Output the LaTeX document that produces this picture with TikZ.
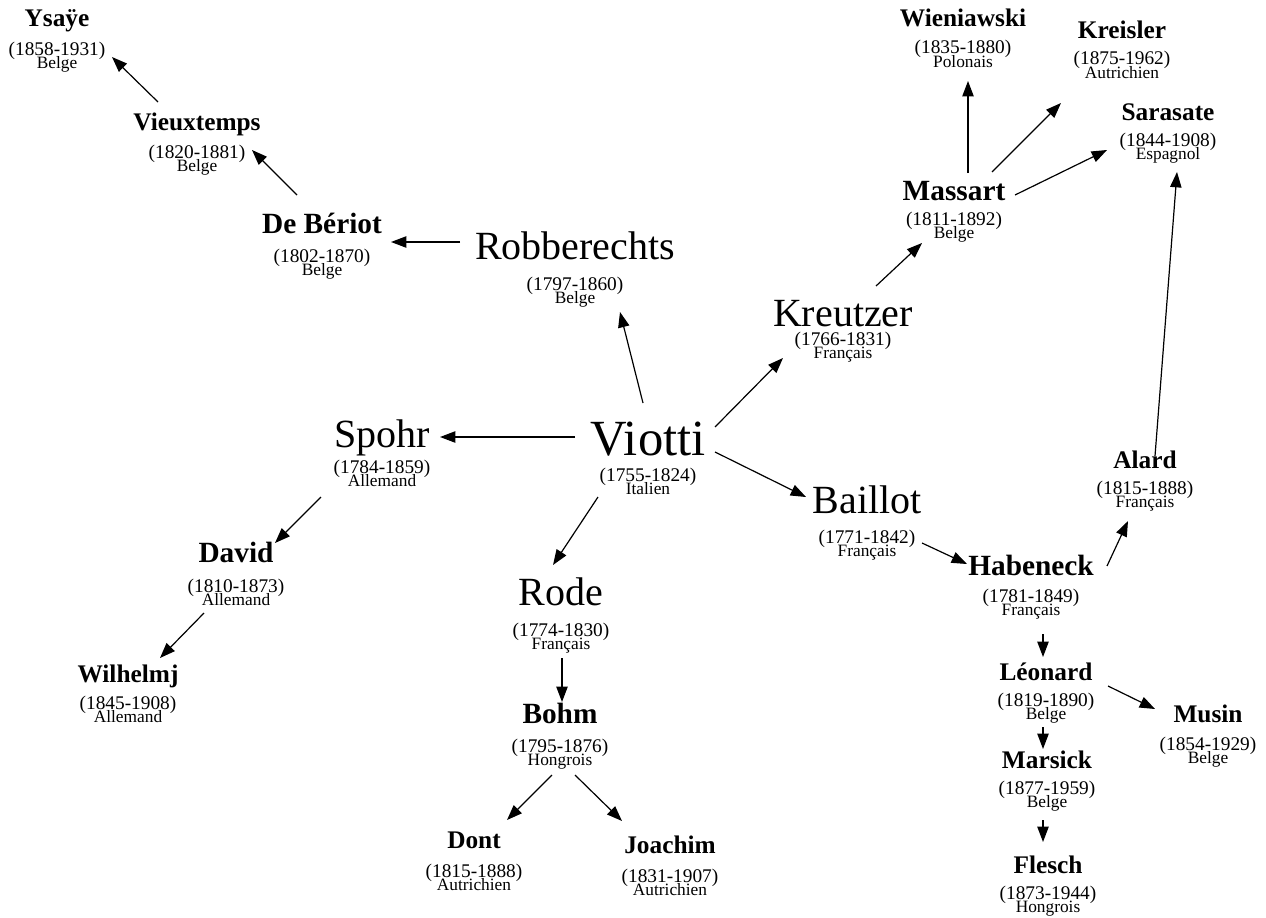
\documentclass[tikz,border=0pt]{standalone}
\usepackage{fontspec}
\setmainfont{Liberation Serif}
\usepackage{tikz}
\usetikzlibrary{arrows.meta, positioning}
\tikzstyle{composer} = [inner sep=0pt, anchor=base, font={\fontsize{14.5}{10}\selectfont\lineskiplimit=-100pt}]
\tikzstyle{arrow} = [line width=0.9pt, -{Triangle[length=11.5pt, width=8.5pt]}]
\newcommand{\hugename}[1]{{\fontsize{38}{38}\selectfont #1}}
\newcommand{\bigname}[1]{{\fontsize{30}{30}\selectfont #1}}
\newcommand{\midname}[1]{{\fontsize{22}{22}\selectfont\bfseries #1}}
\newcommand{\smallname}[1]{{\fontsize{19}{19}\selectfont\bfseries #1}}
\newcommand{\nat}[1]{{\fontsize{13}{10}\selectfont #1}}
% name, gap, dates, nationality -- baseline stays on the name
\newcommand{\person}[4]{\vtop{\halign{\hfil##\hfil\cr#1\cr\noalign{\vskip#2}#3\cr\nat{#4}\cr}}}

\begin{document}
\begin{tikzpicture}[x=0.75pt, y=-0.75pt]
\useasboundingbox (0,0) rectangle (1266,917);

% Viotti and his pupils
\node (viotti) [composer] at (648,455) {\person{\hugename{Viotti}}{9.5pt}{(1755-1824)}{Italien}};
\node (robberechts) [composer] at (575,259) {\person{\bigname{Robberechts}}{13.25pt}{(1797-1860)}{Belge}};
\node (kreutzer) [composer] at (843,326) {\person{\bigname{Kreutzer}}{4.25pt}{(1766-1831)}{Français}};
\node (baillot) [composer] at (867,513) {\person{\bigname{Baillot}}{12.5pt}{(1771-1842)}{Français}};
\node (spohr) [composer] at (382,447) {\person{\bigname{Spohr}}{9.5pt}{(1784-1859)}{Allemand}};
\node (rode) [composer] at (561,605) {\person{\bigname{Rode}}{13.25pt}{(1774-1830)}{Français}};

% Belgian branch
\node (deberiot) [composer] at (322,233) {\person{\midname{De Bériot}}{11.75pt}{(1802-1870)}{Belge}};
\node (vieuxtemps) [composer] at (197,130) {\person{\smallname{Vieuxtemps}}{11pt}{(1820-1881)}{Belge}};
\node (ysaye) [composer] at (57,27) {\person{\smallname{Ysaÿe}}{11pt}{(1858-1931)}{Belge}};

% Kreutzer branch
\node (massart) [composer] at (954,200) {\person{\midname{Massart}}{8.75pt}{(1811-1892)}{Belge}};
\node (wieniawski) [composer] at (963,27) {\person{\smallname{Wieniawski}}{10.25pt}{(1835-1880)}{Polonais}};
\node (kreisler) [composer] at (1122,39) {\person{\smallname{Kreisler}}{9.5pt}{(1875-1962)}{Autrichien}};
\node (sarasate) [composer] at (1168,120) {\person{\smallname{Sarasate}}{9.5pt}{(1844-1908)}{Espagnol}};

% Spohr branch
\node (david) [composer] at (236,562) {\person{\midname{David}}{12.5pt}{(1810-1873)}{Allemand}};
\node (wilhelmj) [composer] at (128,682) {\person{\smallname{Wilhelmj}}{10.25pt}{(1845-1908)}{Allemand}};

% Rode branch
\node (bohm) [composer] at (560,723) {\person{\midname{Bohm}}{11.75pt}{(1795-1876)}{Hongrois}};
\node (dont) [composer] at (474,848) {\person{\smallname{Dont}}{11.75pt}{(1815-1888)}{Autrichien}};
\node (joachim) [composer] at (670,853) {\person{\smallname{Joachim}}{11.75pt}{(1831-1907)}{Autrichien}};

% Baillot branch
\node (habeneck) [composer] at (1031,575) {\person{\midname{Habeneck}}{10.25pt}{(1781-1849)}{Français}};
\node (alard) [composer] at (1145,468) {\person{\smallname{Alard}}{9.5pt}{(1815-1888)}{Français}};
\node (leonard) [composer] at (1046,680) {\person{\smallname{Léonard}}{9.5pt}{(1819-1890)}{Belge}};
\node (marsick) [composer] at (1047,768) {\person{\smallname{Marsick}}{9.5pt}{(1877-1959)}{Belge}};
\node (flesch) [composer] at (1048,873) {\person{\smallname{Flesch}}{9.5pt}{(1873-1944)}{Hongrois}};
\node (musin) [composer] at (1208,722) {\person{\smallname{Musin}}{11pt}{(1854-1929)}{Belge}};

% teacher -> pupil
\draw [arrow] ([shift={(-73,-18)}]viotti.base) -- ([shift={(58,-10)}]spohr.base);
\draw [arrow] ([shift={(-5,-52)}]viotti.base) -- ([shift={(45,53)}]robberechts.base);
\draw [arrow] ([shift={(67,-28)}]viotti.base) -- ([shift={(-60,32)}]kreutzer.base);
\draw [arrow] ([shift={(67,-3)}]viotti.base) -- ([shift={(-61,-16)}]baillot.base);
\draw [arrow] ([shift={(-50,42)}]viotti.base) -- ([shift={(-8,-40)}]rode.base);
\draw [arrow] ([shift={(1,53)}]rode.base) -- ([shift={(2,-21)}]bohm.base);
\draw [arrow] ([shift={(-8,52)}]bohm.base) -- ([shift={(33,-28)}]dont.base);
\draw [arrow] ([shift={(15,52)}]bohm.base) -- ([shift={(-48,-32)}]joachim.base);
\draw [arrow] ([shift={(-61,50)}]spohr.base) -- ([shift={(39,-19)}]david.base);
\draw [arrow] ([shift={(-32,51)}]david.base) -- ([shift={(32,-24)}]wilhelmj.base);
\draw [arrow] ([shift={(-115,-17)}]robberechts.base) -- ([shift={(69,9)}]deberiot.base);
\draw [arrow] ([shift={(-25,-38)}]deberiot.base) -- ([shift={(55,20)}]vieuxtemps.base);
\draw [arrow] ([shift={(-39,-28)}]vieuxtemps.base) -- ([shift={(55,30)}]ysaye.base);
\draw [arrow] ([shift={(33,-40)}]kreutzer.base) -- ([shift={(-32,43)}]massart.base);
\draw [arrow] ([shift={(14,-27)}]massart.base) -- ([shift={(5,54)}]wieniawski.base);
\draw [arrow] ([shift={(38,-28)}]massart.base) -- ([shift={(-61,64)}]kreisler.base);
\draw [arrow] ([shift={(61,-5)}]massart.base) -- ([shift={(-61,30)}]sarasate.base);
\draw [arrow] ([shift={(10,-12)}]alard.base) -- ([shift={(9,52)}]sarasate.base);
\draw [arrow] ([shift={(55,30)}]baillot.base) -- ([shift={(-64,-11)}]habeneck.base);
\draw [arrow] ([shift={(76,-9)}]habeneck.base) -- ([shift={(-17,53)}]alard.base);
\draw [arrow] ([shift={(12,59)}]habeneck.base) -- ([shift={(-3,-23)}]leonard.base);
\draw [arrow] ([shift={(62,6)}]leonard.base) -- ([shift={(-53,-13)}]musin.base);
\draw [arrow] ([shift={(-3,47)}]leonard.base) -- ([shift={(-4,-19)}]marsick.base);
\draw [arrow] ([shift={(-4,52)}]marsick.base) -- ([shift={(-5,-31)}]flesch.base);
\end{tikzpicture}
\end{document}
